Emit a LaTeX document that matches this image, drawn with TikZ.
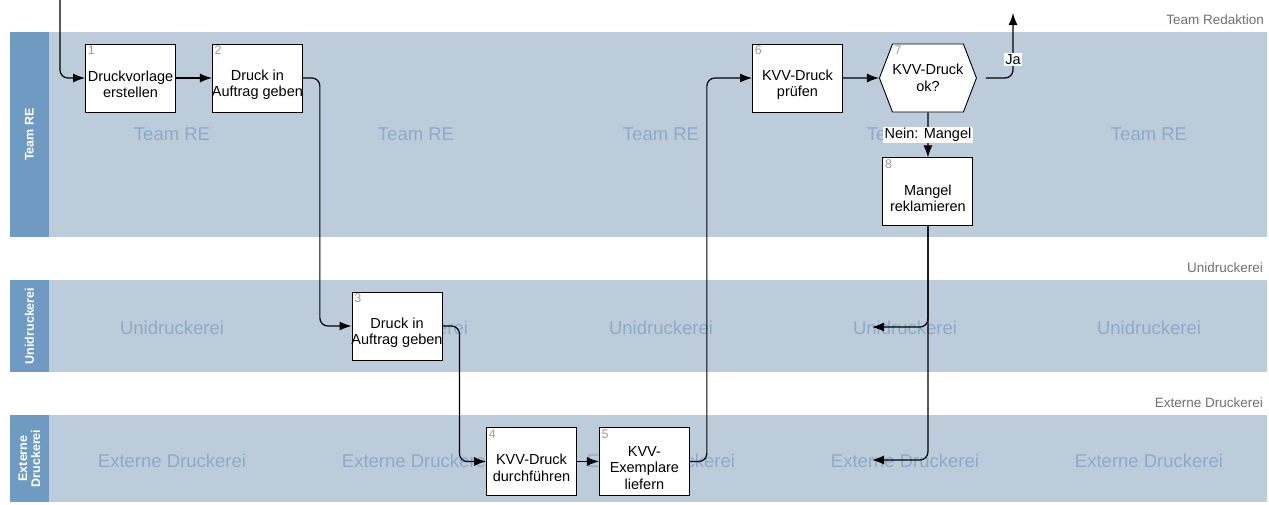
\documentclass[tikz,border=0pt]{standalone}
\usepackage{fontspec}
\setmainfont{Liberation Sans}
\usetikzlibrary{positioning,arrows.meta,shapes.symbols}
\definecolor{cLane}{HTML}{BDCCDA}
\definecolor{cHead}{HTML}{6F9BC2}
\definecolor{cMark}{HTML}{8CABCB}
\definecolor{cNum}{HTML}{9A9A9A}
\definecolor{cSide}{HTML}{707070}
\tikzset{
  lanebg/.style={fill=cLane},
  lanehd/.style={fill=cHead},
  hdtxt/.style={rotate=90, text=white, align=center, inner sep=0pt,
                font=\fontsize{12.5}{13}\selectfont\bfseries},
  wmark/.style={text=cMark, inner sep=0pt, font=\fontsize{18.5}{20}\selectfont},
  side/.style={anchor=east, text=cSide, inner sep=0pt, font=\fontsize{13.5}{15}\selectfont},
  blk/.style={draw=black, fill=white, line width=0.9pt, inner sep=0pt,
              minimum width=90pt, minimum height=68pt},
  hexb/.style={blk, signal, signal to=west and east, signal pointer angle=138,
               align=center, font=\fontsize{14.5}{17}\selectfont},
  txt/.style={align=center, inner sep=0pt, yshift=-6.5pt, font=\fontsize{14.5}{16.5}\selectfont},
  num/.style={anchor=north west, text=cNum, inner sep=2.5pt, font=\fontsize{12.5}{12.5}\selectfont},
  ar/.style={-{Latex[length=12pt,width=9pt]}, line width=1.2pt, rounded corners=8pt},
  lbl/.style={fill=white, sharp corners, inner sep=1.5pt, font=\fontsize{14.5}{16}\selectfont},
}

\begin{document}
\begin{tikzpicture}[x=1pt, y=-1pt]
  \useasboundingbox (0,0) rectangle (1269,504);

  % lanes
  \fill[lanebg] (49,32) rectangle (1267,237);
  \fill[lanebg] (49,280) rectangle (1267,372);
  \fill[lanebg] (49,415) rectangle (1267,502);
  \fill[lanehd] (10,32) rectangle (49,237);
  \fill[lanehd] (10,280) rectangle (49,372);
  \fill[lanehd] (10,415) rectangle (49,502);
  \node[hdtxt] (hRE) at (29.5,134.5) {Team RE};
  \node[hdtxt] (hUni) at (29.5,326) {Unidruckerei};
  \node[hdtxt] (hExt) at (29.5,458.5) {Externe\\Druckerei};
  \node[side] (sRE) at (1264,20) {Team Redaktion};
  \node[side] (sUni) at (1263,268) {Unidruckerei};
  \node[side] (sExt) at (1263,403) {Externe Druckerei};
  \foreach \x [count=\i] in {172,416,661,905,1149} {
    \node[wmark] (wRE\i) at (\x,134) {Team RE};
    \node[wmark] (wUni\i) at (\x,328) {Unidruckerei};
    \node[wmark] (wExt\i) at (\x,461) {Externe Druckerei};
  }

  % steps
  \node[blk, label={[num]north west:1}] (b1) at (130.5,78) {};
  \node[blk, label={[num]north west:2}, right=36pt of b1] (b2) {};
  \node[blk, label={[num]north west:3}] (b3) at (397,326) {};
  \node[blk, label={[num]north west:4}] (b4) at (531.5,461.5) {};
  \node[blk, label={[num]north west:5}, right=22pt of b4] (b5) {};
  \node[blk, label={[num]north west:6}] (b6) at (797.5,78) {};
  \node[hexb, label={[num]north west:7}, right=36pt of b6] (d7) {KVV-Druck\\ok?};
  \node[blk, label={[num]north west:8}, below=45pt of d7] (b8) {};
  \node[txt] (t1) at (b1) {Druckvorlage\\erstellen};
  \node[txt] (t2) at (b2) {Druck in\\Auftrag geben};
  \node[txt] (t3) at (b3) {Druck in\\Auftrag geben};
  \node[txt] (t4) at (b4) {KVV-Druck\\durchführen};
  \node[txt] (t5) at (b5) {KVV-\\Exemplare\\liefern};
  \node[txt] (t6) at (b6) {KVV-Druck\\prüfen};
  \node[txt] (t8) at (b8) {Mangel\\reklamieren};

  \coordinate (start) at (60,0);
  \coordinate (ja) at (1013,13);
  \coordinate (toUni) at (872,327);
  \coordinate (toExt) at (872,460);

  \draw[ar] (start) |- (b1.west);
  \draw[ar] (b1) -- (b2);
  \draw[ar] (b2.east) -- ++(17pt,0) |- (b3.west);
  \draw[ar] (b3.east) -- ++(17pt,0) |- (b4.west);
  \draw[ar] (b4) -- (b5);
  \draw[ar] (b5.east) -- ++(17pt,0) |- (b6.west);
  \draw[ar] (b6) -- (d7);
  \draw[ar] ([xshift=9pt]d7.east) -| node[lbl, pos=0.64] {Ja} (ja);
  \draw[ar] (d7) -- node[lbl] {Nein: Mangel} (b8);
  \draw[ar] (b8.south) |- (toUni);
  \draw[ar] (b8.south) |- (toExt);
\end{tikzpicture}
\end{document}
